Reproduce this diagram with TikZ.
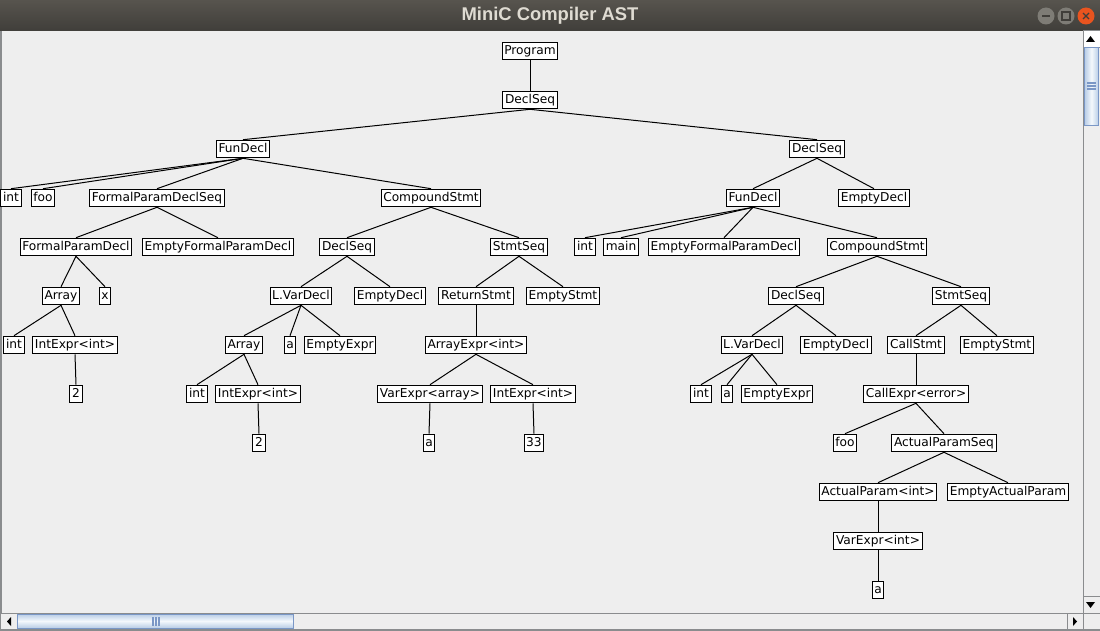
\documentclass[tikz,border=0pt]{standalone}
\usepackage{fontspec}
\setmainfont{DejaVu Sans}
\newfontfamily\titlefont{Liberation Sans}
\usepackage{tikz}
\usetikzlibrary{
	positioning,
	calc
}
\usepackage{xcolor}
\definecolor{panelbg}{HTML}{EEEEEE}
\definecolor{titletop}{HTML}{57544E}
\definecolor{titlebot}{HTML}{403E3A}
\definecolor{titletext}{HTML}{DFDBD2}
\definecolor{btngray}{HTML}{7E7C76}
\definecolor{btnclose}{HTML}{E9541F}
\definecolor{sbborder}{HTML}{7A97C6}
\definecolor{sblight}{HTML}{F4F8FC}
\definecolor{sbdark}{HTML}{B8CDE6}
\definecolor{frame}{HTML}{8A8C8E}

\begin{document}
\begin{tikzpicture}[
		x=0.5pt,y=-0.5pt,
		ast/.style={
			draw,
			fill=white,
			line width=0.5pt,
			font=\fontsize{6.1pt}{7pt}\selectfont,
			inner xsep=1.1pt,
			inner ysep=1.4pt,
			text height=4.6pt,
			text depth=1.4pt
		},
		edge/.style={
			line width=0.5pt
		},
		sbtn/.style={
			draw=frame,
			fill=panelbg,
			line width=0.5pt
		}
		]
		
		\useasboundingbox (0,0) rectangle (1100,631);
		\fill[panelbg] (0,0) rectangle (1100,631);
		
		% Title bar
		\shade[top color=titletop,bottom color=titlebot] (0,0) rectangle (1100,31);
		\node[font=\titlefont\bfseries\fontsize{9.2pt}{10pt}\selectfont,text=titletext] (title) at (550,16) {MiniC Compiler AST};
		\foreach \bx in {1046,1066}
		\fill[btngray] (\bx,16) circle (8.5);
		\fill[btnclose] (1086,16) circle (8.5);
		\draw[titlebot,line width=0.7pt] (1042,16) -- (1050,16);
		\draw[titlebot,line width=0.6pt] (1062,12) rectangle (1070,20);
		\draw[titlebot,line width=0.7pt] (1083,13) -- (1089,19) (1083,19) -- (1089,13);
		
		% Frame
		\draw[frame,line width=1pt] (1,31) -- (1,631);
		\draw[frame,line width=1pt] (0,630) -- (1100,630);
		
		% Vertical scrollbar
		\draw[sbtn] (1083.5,31) rectangle (1100,613);
		\draw[sbtn,fill=white] (1083.5,31) rectangle (1100,48);
		\fill (1086,42) -- (1095,42) -- (1090.5,36) -- cycle;
		\shade[left color=sbdark,right color=sbdark,middle color=sblight,draw=sbborder,line width=0.5pt] (1084.5,48) rectangle (1098.5,126);
		\foreach \gy in {83,86,89}
		\draw[sbborder,line width=0.6pt] (1087,\gy) -- (1096,\gy);
		\draw[sbtn] (1083.5,596) rectangle (1100,613);
		\fill (1086,602) -- (1095,602) -- (1090.5,608) -- cycle;
		
		% Horizontal scrollbar
		\draw[sbtn] (0,613) rectangle (1083.5,629);
		\draw[sbtn] (1083.5,613) rectangle (1100,629);
		\fill (11,617) -- (11,626) -- (7,621.5) -- cycle;
		\shade[top color=sbdark,bottom color=sbdark,middle color=sblight,draw=sbborder,line width=0.5pt] (17,614) rectangle (293,628);
		\foreach \gx in {153,156,159}
		\draw[sbborder,line width=0.6pt] (\gx,617) -- (\gx,626);
		\draw[sbtn] (1067,613) -- (1067,629);
		\fill (1073,617) -- (1073,626) -- (1077,621.5) -- cycle;
		
		% Root
		\node[ast] (prog) at (530,51) {Program};
		\node[ast] (ds1) at (530,100) {DeclSeq};
		\node[ast] (fd1) at (243,149) {FunDecl};
		\node[ast] (ds2) at (817,149) {DeclSeq};
		
		% foo
		\node[ast] (int1) at (11,198) {int};
		\node[ast] (foo1) at (43,198) {foo};
		\node[ast] (fpds) at (157,198) {FormalParamDeclSeq};
		\node[ast] (cs1) at (431,198) {CompoundStmt};
		\node[ast] (fpd) at (76,247) {FormalParamDecl};
		\node[ast] (efpd1) at (218,247) {EmptyFormalParamDecl};
		\node[ast] (ds3) at (347,247) {DeclSeq};
		\node[ast] (ss1) at (519,247) {StmtSeq};
		\node[ast] (arr1) at (61,296) {Array};
		\node[ast] (x) at (105,296) {x};
		\node[ast] (lvd1) at (301,296) {L.VarDecl};
		\node[ast] (ed2) at (390,296) {EmptyDecl};
		\node[ast] (ret) at (476,296) {ReturnStmt};
		\node[ast] (es1) at (563,296) {EmptyStmt};
		\node[ast] (int2) at (14,345) {int};
		\node[ast] (ie1) at (75,345) {IntExpr<int>};
		\node[ast] (arr2) at (244,345) {Array};
		\node[ast] (a1) at (290,345) {a};
		\node[ast] (ee1) at (340,345) {EmptyExpr};
		\node[ast] (ae) at (476,345) {ArrayExpr<int>};
		\node[ast] (two1) at (76,394) {2};
		\node[ast] (int3) at (197,394) {int};
		\node[ast] (ie2) at (258,394) {IntExpr<int>};
		\node[ast] (ve1) at (430,394) {VarExpr<array>};
		\node[ast] (ie3) at (533,394) {IntExpr<int>};
		\node[ast] (two2) at (259,443) {2};
		\node[ast] (a2) at (429,443) {a};
		\node[ast] (n33) at (534,443) {33};
		
		% main
		\node[ast] (fd2) at (753,198) {FunDecl};
		\node[ast] (ed1) at (874,198) {EmptyDecl};
		\node[ast] (int4) at (585,247) {int};
		\node[ast] (main) at (621,247) {main};
		\node[ast] (efpd2) at (724,247) {EmptyFormalParamDecl};
		\node[ast] (cs2) at (877,247) {CompoundStmt};
		\node[ast] (ds4) at (796,296) {DeclSeq};
		\node[ast] (ss2) at (961,296) {StmtSeq};
		\node[ast] (lvd2) at (752,345) {L.VarDecl};
		\node[ast] (ed3) at (836,345) {EmptyDecl};
		\node[ast] (call) at (916,345) {CallStmt};
		\node[ast] (es2) at (997,345) {EmptyStmt};
		\node[ast] (int5) at (701,394) {int};
		\node[ast] (a3) at (727,394) {a};
		\node[ast] (ee2) at (777,394) {EmptyExpr};
		\node[ast] (ce) at (916,394) {CallExpr<error>};
		\node[ast] (foo2) at (845,443) {foo};
		\node[ast] (aps) at (944,443) {ActualParamSeq};
		\node[ast] (ap) at (878,492) {ActualParam<int>};
		\node[ast] (eap) at (1008,492) {EmptyActualParam};
		\node[ast] (ve2) at (878,541) {VarExpr<int>};
		\node[ast] (a4) at (878,590) {a};
		
		% Connections
		\foreach \p/\c in {prog/ds1,ds1/fd1,ds1/ds2,
			fd1/int1,fd1/foo1,fd1/fpds,fd1/cs1,
			fpds/fpd,fpds/efpd1,fpd/arr1,fpd/x,arr1/int2,arr1/ie1,ie1/two1,
			cs1/ds3,cs1/ss1,ds3/lvd1,ds3/ed2,lvd1/arr2,lvd1/a1,lvd1/ee1,
			arr2/int3,arr2/ie2,ie2/two2,ss1/ret,ss1/es1,ret/ae,ae/ve1,ae/ie3,
			ve1/a2,ie3/n33,
			ds2/fd2,ds2/ed1,fd2/int4,fd2/main,fd2/efpd2,fd2/cs2,
			cs2/ds4,cs2/ss2,ds4/lvd2,ds4/ed3,lvd2/int5,lvd2/a3,lvd2/ee2,
			ss2/call,ss2/es2,call/ce,ce/foo2,ce/aps,aps/ap,aps/eap,ap/ve2,ve2/a4}
		\draw[edge] (\p.south) -- (\c.north);
		
	\end{tikzpicture}
\end{document}
